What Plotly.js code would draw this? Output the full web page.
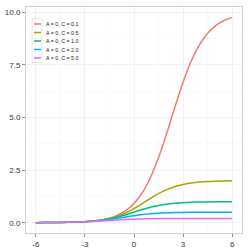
<!DOCTYPE html>
<html>
<head>
<meta charset="utf-8">
<script src="https://cdn.plot.ly/plotly-3.0.1.min.js"></script>
<style>html,body{margin:0;padding:0;background:#fff;}#chart{width:250px;height:250px;}</style>
</head>
<body>
<div id="chart"></div>
<script>
var xs = [-6,-5.5,-5,-4.5,-4,-3.5,-3,-2.5,-2,-1.5,-1,-0.5,0,0.5,1,1.5,2,2.5,3,3.5,4,4.5,5,5.5,6];
var seriesNames = ["A = 0, C = 0.1","A = 0, C = 0.5","A = 0, C = 1.0","A = 0, C = 2.0","A = 0, C = 5.0"];
var yC01 = [0.0025,0.0041,0.0067,0.0111,0.0183,0.0301,0.0495,0.0814,0.1335,0.2183,0.3548,0.5719,0.909,1.415,2.137,3.095,4.249,5.492,6.676,7.681,8.452,9.000,9.369,9.607,9.758];
var yC05 = [0.0025,0.0041,0.0067,0.0111,0.0182,0.0298,0.0486,0.0789,0.1268,0.2007,0.3107,0.4654,0.6667,0.9037,1.1522,1.3829,1.574,1.718,1.819,1.886,1.929,1.957,1.973,1.984,1.990];
var yC10 = [0.0025,0.0041,0.0067,0.0110,0.0180,0.0293,0.0474,0.0759,0.1192,0.1824,0.2689,0.3775,0.5,0.6225,0.7311,0.8176,0.8808,0.9241,0.9526,0.9707,0.9820,0.9890,0.9933,0.9959,0.9975];
var yC20 = [0.0025,0.0041,0.0067,0.0109,0.0177,0.0285,0.0453,0.0705,0.1065,0.1543,0.2119,0.2741,0.3333,0.3837,0.4223,0.4498,0.4683,0.4803,0.4879,0.4926,0.4955,0.4972,0.4983,0.4990,0.4994];
var yC50 = [0.0024,0.0040,0.0065,0.0105,0.0168,0.0262,0.0399,0.0582,0.0807,0.1055,0.1296,0.1504,0.1667,0.1784,0.1863,0.1915,0.1947,0.1968,0.1980,0.1988,0.1993,0.1996,0.1997,0.1998,0.1999];
var xTicks = [-6,-3,0,3,6];
var yTicks = [0,2.5,5,7.5,10];
var yTickText = ["0.0","2.5","5.0","7.5","10.0"];

var ySeries = [yC01,yC05,yC10,yC20,yC50];
var colors = ["#F8766D","#A3A500","#00BF7D","#00B0F6","#E76BF3"];

var traces = ySeries.map(function(ys,i){
  return {x: xs, y: ys, type: "scatter", mode: "lines", name: seriesNames[i],
          line: {color: colors[i], width: 1.5, shape: "spline"}, showlegend: false, hoverinfo: "none"};
});

// plot area in pixels
var L = 26, T = 7, W = 216, H = 226;
function px(x){ return (x - L) / W; }
function py(y){ return 1 - (y - T) / H; }

var shapes = [], annotations = [];
shapes.push({type: "rect", xref: "paper", yref: "paper", x0: px(32), x1: px(42), y0: py(19), y1: py(62.5),
             line: {color: "#e6e6e6", width: 1}, fillcolor: "rgba(0,0,0,0)", layer: "above"});
seriesNames.forEach(function(n,i){
  var yy = 24 + i * 8.5;
  shapes.push({type: "line", xref: "paper", yref: "paper", x0: px(34), x1: px(41), y0: py(yy), y1: py(yy),
               line: {color: colors[i], width: 1.5}, layer: "above"});
  annotations.push({xref: "paper", yref: "paper", x: px(43.5), y: py(yy), xanchor: "left", yanchor: "middle",
                    text: n, showarrow: false, font: {family: "Liberation Sans, Arial, sans-serif", size: 5.3, color: "#1a1a1a"}});
});

var axisCommon = {
  showline: true, mirror: true, linecolor: "#d0d0d0", linewidth: 1,
  ticks: "outside", ticklen: 3, tickcolor: "#8c8c8c", tickwidth: 1,
  showgrid: true, gridcolor: "#efefef", gridwidth: 0.8, zeroline: false,
  tickfont: {family: "Liberation Sans, Arial, sans-serif", size: 8, color: "#333333"},
};

var layout = {
  width: 250, height: 250,
  margin: {l: L, r: 250 - L - W, t: T, b: 250 - T - H},
  paper_bgcolor: "#ffffff", plot_bgcolor: "#ffffff",
  showlegend: false,
  xaxis: Object.assign({}, axisCommon, {range: [-6.6, 6.6], tickmode: "array", tickvals: xTicks, ticktext: xTicks.map(String),
    minor: {showgrid: true, gridcolor: "#f7f7f7", gridwidth: 0.6, tickmode: "array", tickvals: [-4.5,-1.5,1.5,4.5], ticks: ""}}),
  yaxis: Object.assign({}, axisCommon, {range: [-0.49, 10.25], tickmode: "array", tickvals: yTicks, ticktext: yTickText,
    minor: {showgrid: true, gridcolor: "#f7f7f7", gridwidth: 0.6, tickmode: "array", tickvals: [1.25,3.75,6.25,8.75], ticks: ""}}),
  shapes: shapes,
  annotations: annotations
};

Plotly.newPlot("chart", traces, layout, {staticPlot: true, displayModeBar: false});
</script>
</body>
</html>
